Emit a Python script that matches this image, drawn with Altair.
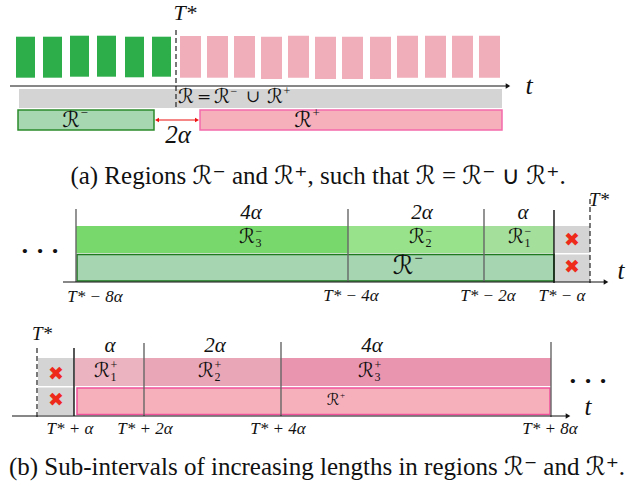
import altair as alt
import pandas as pd

W, H = 641, 486

# ---------------- (a) sample stream around T* ----------------
green_x0 = [16, 43, 70, 97, 125, 152]
green_top = [36.7, 36.7, 35.7, 35.7, 36.7, 36.7]
green_bot = [77.7, 77.7, 76.7, 76.7, 77.3, 76.7]
green_w = 19

pink_x0 = [180, 207, 234, 261, 288, 315, 342, 370, 397, 425, 452, 479]
pink_top = [36, 36, 36, 36.7, 35.7, 36.7, 36.7, 36.7, 35.7, 35.7, 35.7, 35.7]
pink_bot = [77.7, 77.7, 77.7, 79, 77.7, 79, 79, 79, 77.7, 77.7, 77.7, 77.7]
pink_w = 21

# region boxes of part (a): name, x0, x1, y0, y1, fill, stroke
regions_a = [
    ("R", 19, 502, 89, 108, "#d4d4d4", "#d4d4d4"),
    ("R-", 18, 154, 110, 130, "#a6d7b1", "#2c8a2c"),
    ("R+", 200, 502, 110, 130, "#f6b0bc", "#f36aab"),
]

# ---------------- (b) sub-intervals ----------------
minus_bands = [
    ("R3-", 76, 348, 226, 253, "#78d86b", "#78d86b"),
    ("R2-", 348, 484, 226, 253, "#97e28a", "#97e28a"),
    ("R1-", 484, 554, 226, 253, "#a5df9c", "#a5df9c"),
    ("R-", 77, 554, 254.5, 281, "#a5d6b1", "#1f7a1f"),
    ("gap1", 555, 590, 226, 253, "#d4d4d4", "#d4d4d4"),
    ("gap2", 555, 590, 254.5, 282, "#d4d4d4", "#d4d4d4"),
]
plus_bands = [
    ("gap1", 38, 74, 358, 386, "#d4d4d4", "#d4d4d4"),
    ("gap2", 38, 74, 387.5, 415, "#d4d4d4", "#d4d4d4"),
    ("R1+", 75, 144, 358, 386, "#ebb2bf", "#ebb2bf"),
    ("R2+", 144, 281, 358, 386, "#e9a6b7", "#e9a6b7"),
    ("R3+", 281, 551, 358, 386, "#e995b0", "#e995b0"),
    ("R+", 77, 550, 388, 414.5, "#f6b0bc", "#f0509a"),
]

# boundary ticks: x, y_top, y_bottom, colour
bounds = [
    (76, 209, 282, "#666666"), (348, 209, 282, "#666666"),
    (484, 209, 282, "#666666"), (554, 210, 283, "#111111"),
    (74, 348, 416, "#111111"), (144, 343, 416, "#666666"),
    (281, 342, 416, "#666666"), (551, 342, 417, "#666666"),
]
# dashed T* markers: x, y_top, y_bottom
dashes = [(176, 30, 108), (590, 199, 283), (37, 348, 418)]

# time axes: x_start, x_end, y
axes = [(10, 508, 86), (63, 606, 282), (12, 568, 416)]

# red "excluded" marks
cross_x = [572, 572, 56, 56]
cross_y = [240, 267, 374, 400]

# ---------------- build tables ----------------
rects = []
for x0, t, b in zip(green_x0, green_top, green_bot):
    rects.append(dict(x=x0, x2=x0 + green_w, y=t, y2=b, fill="#2eae4b", stroke="#2eae4b", sw=0))
for x0, t, b in zip(pink_x0, pink_top, pink_bot):
    rects.append(dict(x=x0, x2=x0 + pink_w, y=t, y2=b, fill="#f0adba", stroke="#f0adba", sw=0))
for name, x0, x1, y0, y1, f, s in regions_a + minus_bands + plus_bands:
    rects.append(dict(x=x0, x2=x1, y=y0, y2=y1, fill=f, stroke=s,
                      sw=1.5 if f != s else 0))
rect_df = pd.DataFrame(rects)

xs = alt.Scale(domain=[0, W], range=[0, W])
ys = alt.Scale(domain=[0, H], range=[0, H])
X = lambda f: alt.X(f, type="quantitative", scale=xs, axis=None)
Y = lambda f: alt.Y(f, type="quantitative", scale=ys, axis=None)

rect_layer = alt.Chart(rect_df).mark_rect().encode(
    x=X("x"), x2="x2", y=Y("y"), y2="y2",
    fill=alt.Fill("fill:N", scale=None),
    stroke=alt.Stroke("stroke:N", scale=None),
    strokeWidth=alt.StrokeWidth("sw:Q", scale=None),
)

bound_df = pd.DataFrame(bounds, columns=["x", "y", "y2", "c"])
bound_layer = alt.Chart(bound_df).mark_rule(strokeWidth=1.4).encode(
    x=X("x"), y=Y("y"), y2="y2", color=alt.Color("c:N", scale=None)
)

dash_df = pd.DataFrame(dashes, columns=["x", "y", "y2"])
dash_layer = alt.Chart(dash_df).mark_rule(
    strokeWidth=1.3, strokeDash=[5, 3], color="#333333"
).encode(x=X("x"), y=Y("y"), y2="y2")

axis_df = pd.DataFrame(axes, columns=["x", "x2", "y"])
axis_layer = alt.Chart(axis_df).mark_rule(strokeWidth=1.2, color="#111111").encode(
    x=X("x"), x2="x2", y=Y("y")
)
head_layer = alt.Chart(axis_df).mark_point(
    shape="triangle-right", filled=True, size=28, color="#111111", opacity=1
).encode(x=X("x2"), y=Y("y"))

# red double arrow (2 alpha gap)
gap_df = pd.DataFrame([dict(x=157, x2=197, y=120)])
gap_rule = alt.Chart(gap_df).mark_rule(strokeWidth=1.2, color="#ee1111").encode(
    x=X("x"), x2="x2", y=Y("y")
)
gap_heads = pd.DataFrame([dict(x=157, y=120, s="triangle-left"),
                          dict(x=197, y=120, s="triangle-right")])
gap_head_layer = alt.Chart(gap_heads).mark_point(
    filled=True, size=22, color="#ee1111", opacity=1
).encode(x=X("x"), y=Y("y"), shape=alt.Shape("s:N", scale=None))

# ---------------- text ----------------
math_txt = [  # italic maths: x, y, text, size
    (185, 13, "T*", 22), (529, 86, "t", 26), (178, 135, "2α", 25),
    (599, 200, "T*", 19), (621, 271, "t", 25), (42, 334, "T*", 19), (588, 407, "t", 25),
    (251, 213, "4α", 21), (422, 213, "2α", 21), (523, 213, "α", 21),
    (110, 346, "α", 21), (215, 346, "2α", 21), (372, 346, "4α", 21),
    (95, 297, "T* − 8α", 17), (351, 296, "T* − 4α", 17), (488, 296, "T* − 2α", 17),
    (562, 296, "T* − α", 17),
    (70, 429, "T* + α", 17), (145, 429, "T* + 2α", 17), (278, 429, "T* + 4α", 17),
    (550, 429, "T* + 8α", 17),
]

# calligraphic region names: x, y, size, superscript, subscript
script_names = [
    (186, 97, 20, "", ""), (222, 97, 20, "−", ""), (275, 97, 20, "+", ""),
    (71, 120, 22, "−", ""), (303, 120, 22, "+", ""),
    (247, 237, 20, "−", "3"), (417, 237, 20, "−", "2"), (516, 237, 20, "−", "1"),
    (403, 266, 26, "−", ""),
    (102, 371, 20, "+", "1"), (206, 371, 20, "+", "2"), (366, 371, 20, "+", "3"),
    (333, 400, 16, "+", ""),
]
operators = [(204, 97, "=", 17), (253, 97, "∪", 17)]

script_rows, small_rows = [], []
for x, y, s, sup, sub in script_names:
    script_rows.append((x, y, "ℛ", s))
    if sup:
        small_rows.append((x + 0.6 * s, y - 0.32 * s, sup, round(0.58 * s)))
    if sub:
        small_rows.append((x + 0.58 * s, y + 0.32 * s, sub, round(0.58 * s)))

cross_rows = [(x, y, "✖", 19) for x, y in zip(cross_x, cross_y)]
dots_txt = [(40, 251, "·  ·  ·", 26), (588, 381, "·  ·  ·", 26)]
captions = [
    (318, 176, "(a) Regions ℛ⁻ and ℛ⁺, such that ℛ = ℛ⁻ ∪ ℛ⁺.", 25),
    (317, 467, "(b) Sub-intervals of increasing lengths in regions ℛ⁻ and ℛ⁺.", 25),
]


def text_layer(rows, font, style="normal", weight="normal", color="#111111"):
    df = pd.DataFrame(rows, columns=["x", "y", "label", "fs"])
    return alt.Chart(df).mark_text(
        font=font, fontStyle=style, fontWeight=weight, align="center",
        baseline="middle", color=color
    ).encode(x=X("x"), y=Y("y"), text="label:N",
             size=alt.Size("fs:Q", scale=None))


chart = alt.layer(
    rect_layer, bound_layer, dash_layer, axis_layer, head_layer,
    gap_rule, gap_head_layer,
    text_layer(cross_rows, "DejaVu Sans", color="#ee2a1a"),
    text_layer(math_txt, "Liberation Serif", "italic"),
    text_layer(script_rows, "DejaVu Sans"),
    text_layer(small_rows, "Liberation Serif"),
    text_layer(operators, "DejaVu Serif"),
    text_layer(dots_txt, "Liberation Serif", weight="bold"),
    text_layer(captions, "'Liberation Serif', 'DejaVu Sans'"),
).properties(
    width=W, height=H, padding=0, autosize=alt.AutoSizeParams(type="none"),
    background="white",
).configure_view(stroke=None)

chart.save("out.html", embed_options={"renderer": "svg", "actions": False})
